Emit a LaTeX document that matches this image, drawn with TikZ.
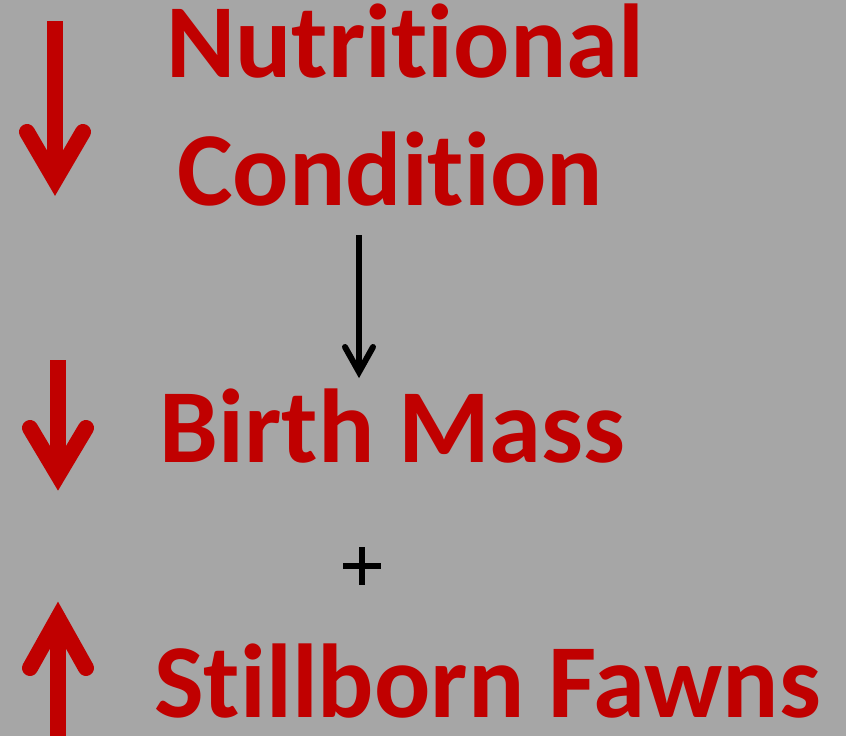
\documentclass[tikz,border=0pt]{standalone}
\usepackage{fontspec}
\usetikzlibrary{calc}
\setmainfont{Carlito}[Ligatures=NoCommon]
\definecolor{slidegray}{HTML}{A6A6A6}
\definecolor{darkred}{HTML}{C00000}
\tikzset{
  label/.style={inner sep=0pt, anchor=base, text=darkred, font=\bfseries\fontsize{105}{110}\selectfont},
  shaft/.style={line width=16pt, darkred},
  head/.style={line width=16pt, darkred, line cap=round, miter limit=10},
}
\begin{document}
\begin{tikzpicture}[x=1pt,y=-1pt]

  \fill [slidegray] (0,0) rectangle (846,736);
  \useasboundingbox (0,0) rectangle (846,736);

% labels
  \node [label] (nutr) at (405,77) {Nutritional};
  \node [label] (cond) at (390,205) {Condition};
  \node [label] (birth) at (392.5,462) {Birth Mass};
  \node [label] (still) at (487.5,717) {Stillborn Fawns};

% red arrows, down / down / up
  \draw [shaft] (55,21) -- (55,175);
  \draw [head] (27,132) -- (55,180) -- (83,132);

  \draw [shaft] (58,360) -- (58,470);
  \draw [head] (30,428) -- (58,475) -- (86,428);

  \draw [shaft] (58,736) -- (58,625);
  \draw [head] (30,668) -- (58,618) -- (86,668);

% black arrow and plus
  \coordinate (top) at (359,235);  \coordinate (tip) at (359,372);
  \draw [line width=6pt] (top) -- (tip);
  \draw [line width=6pt, line cap=round, miter limit=10] (345,347) -- (tip) -- (373,347);
  \node [inner sep=0pt] (plus) at (362,566) {};
  \draw [line width=6pt] ($(plus)+(-19,0)$) -- ($(plus)+(19,0)$);
  \draw [line width=6pt] ($(plus)+(0,-19)$) -- ($(plus)+(0,19)$);

\end{tikzpicture}
\end{document}
